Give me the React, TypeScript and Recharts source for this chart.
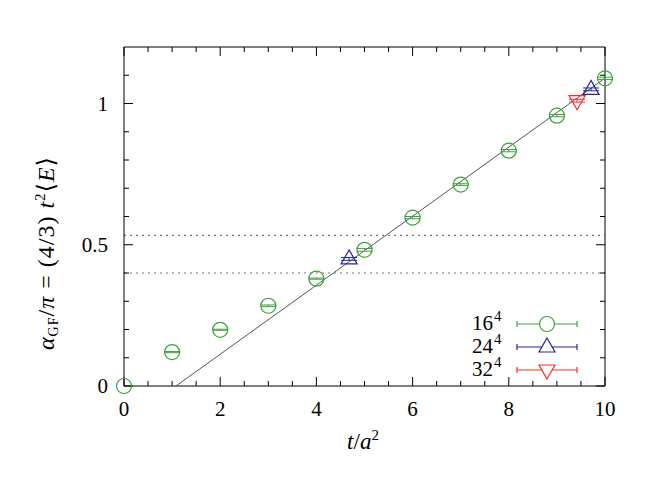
import { ComposedChart, ErrorBar, Line, ReferenceLine, Scatter, XAxis, YAxis } from 'recharts';

// lattice 16^4
const t16 = [0, 1, 2, 3, 4, 5, 6, 7, 8, 9, 10];
const alpha16 = [0, 0.12, 0.199, 0.284, 0.38, 0.482, 0.596, 0.713, 0.833, 0.957, 1.089];
const err16 = [0, 0.002, 0.002, 0.003, 0.002, 0.005, 0.004, 0.003, 0.004, 0.004, 0.004];
// lattice 24^4
const t24 = [4.68, 9.71];
const alpha24 = [0.45, 1.05];
const err24 = [0.005, 0.005];
// lattice 32^4
const t32 = [9.42];
const alpha32 = [1.01];
const err32 = [0.005];
// linear fit
const fitT = [1.08, 10];
const fitAlpha = [0, 1.09];
// dotted reference levels
const refLevels = [0.4, 0.533];

const X_MIN = 0;
const X_MAX = 10;
const Y_MIN = 0;
const Y_MAX = 1.2;
const xMajor = [0, 2, 4, 6, 8, 10];
const xMinor = [0.5, 1, 1.5, 2.5, 3, 3.5, 4.5, 5, 5.5, 6.5, 7, 7.5, 8.5, 9, 9.5];
const yMajor = [0, 0.5, 1];
const yMinor = [0.1, 0.2, 0.3, 0.4, 0.6, 0.7, 0.8, 0.9, 1.1];

const FONT = '"Liberation Serif", "DejaVu Serif", serif';
const GREEN = '#3da33d';
const BLUE = '#27279a';
const RED = '#ff2a2a';

// inward tick lengths in data units (~9px major, ~5px minor)
const X_PER_PX = (X_MAX - X_MIN) / 481;
const Y_PER_PX = (Y_MAX - Y_MIN) / 339;

const rows = (ts: number[], as: number[], es: number[]) => ts.map((x, i) => ({ x, y: as[i], err: es[i] }));
const data16 = rows(t16, alpha16, err16);
const data24 = rows(t24, alpha24, err24);
const data32 = rows(t32, alpha32, err32);
const fitData = fitT.map((x, i) => ({ x, y: fitAlpha[i] }));

const xTickMarks = [
  ...xMajor.map((v) => ({ v, len: 9 })),
  ...xMinor.map((v) => ({ v, len: 5 })),
];
const yTickMarks = [
  ...yMajor.map((v) => ({ v, len: 9 })),
  ...yMinor.map((v) => ({ v, len: 5 })),
];

function XLabel(props: any) {
  const { x, y, payload } = props;
  return (
    <text x={x} y={y + 30} textAnchor="middle" fontFamily={FONT} fontSize={21} fill="#000">
      {payload.value}
    </text>
  );
}

function YLabel(props: any) {
  const { x, y, payload } = props;
  return (
    <text x={x - 16} y={y + 7} textAnchor="end" fontFamily={FONT} fontSize={21} fill="#000">
      {payload.value}
    </text>
  );
}

const circle = (color: string) => (p: any) => (
  <circle cx={p.cx} cy={p.cy} r={7.5} fill="none" stroke={color} strokeWidth={1.2} />
);
const triUp = (color: string) => (p: any) => (
  <path d={`M${p.cx},${p.cy - 9} L${p.cx + 8},${p.cy + 5} L${p.cx - 8},${p.cy + 5} Z`} fill="none" stroke={color} strokeWidth={1.2} />
);
const triDown = (color: string) => (p: any) => (
  <path d={`M${p.cx},${p.cy + 9} L${p.cx + 8},${p.cy - 5} L${p.cx - 8},${p.cy - 5} Z`} fill="none" stroke={color} strokeWidth={1.2} />
);

const legendItems = [
  { label: '16', color: GREEN, kind: 'circle' },
  { label: '24', color: BLUE, kind: 'up' },
  { label: '32', color: RED, kind: 'down' },
];

function Overlay() {
  return (
    <svg width={654} height={489} style={{ position: 'absolute', left: 0, top: 0, pointerEvents: 'none' }}>
      {/* y label */}
      <text transform="translate(54,253) rotate(-90)" textAnchor="middle" fontFamily={FONT} fontSize={24} fill="#000"
        letterSpacing={1}>
        <tspan fontStyle="italic">α</tspan>
        <tspan fontSize={14} dy={4}>GF</tspan>
        <tspan dy={-4}>/</tspan>
        <tspan fontStyle="italic">π</tspan>
        <tspan>{' = (4/3) '}</tspan>
        <tspan fontStyle="italic">t</tspan>
        <tspan fontSize={15} dy={-9}>2</tspan>
        <tspan dy={9}>⟨</tspan>
        <tspan fontStyle="italic">E</tspan>
        <tspan>⟩</tspan>
      </text>
      {/* x label */}
      <text x={363} y={449} textAnchor="middle" fontFamily={FONT} fontSize={23} fill="#000">
        <tspan fontStyle="italic">t</tspan>
        <tspan>/</tspan>
        <tspan fontStyle="italic">a</tspan>
        <tspan fontSize={15} dy={-9}>2</tspan>
      </text>
      {/* legend */}
      {legendItems.map((it, i) => {
        const cy = 324 + i * 23;
        const mx = 547;
        return (
          <g key={it.label}>
            <text x={493} y={cy + 6} textAnchor="end" fontFamily={FONT} fontSize={21} fill="#000">
              {it.label}
            </text>
            <text x={494} y={cy - 3} textAnchor="start" fontFamily={FONT} fontSize={15} fill="#000">
              4
            </text>
            <line x1={517} x2={577} y1={cy} y2={cy} stroke={it.color} strokeWidth={1.2} />
            <line x1={517} x2={517} y1={cy - 3} y2={cy + 3} stroke={it.color} strokeWidth={1.2} />
            <line x1={577} x2={577} y1={cy - 3} y2={cy + 3} stroke={it.color} strokeWidth={1.2} />
            {it.kind === 'circle' && <circle cx={mx} cy={cy} r={7.5} fill="#fff" stroke={it.color} strokeWidth={1.2} />}
            {it.kind === 'up' && (
              <path d={`M${mx},${cy - 9} L${mx + 8},${cy + 5} L${mx - 8},${cy + 5} Z`} fill="#fff" stroke={it.color} strokeWidth={1.2} />
            )}
            {it.kind === 'down' && (
              <path d={`M${mx},${cy + 9} L${mx + 8},${cy - 5} L${mx - 8},${cy - 5} Z`} fill="#fff" stroke={it.color} strokeWidth={1.2} />
            )}
          </g>
        );
      })}
    </svg>
  );
}

export default function App() {
  return (
    <div style={{ position: 'absolute', left: 0, top: 0, width: 654, height: 489, background: '#fff' }}>
      <ComposedChart width={654} height={489} margin={{ top: 47, right: 49, bottom: 73, left: 64 }}>
        <XAxis dataKey="x" type="number" domain={[X_MIN, X_MAX]} ticks={xMajor} interval={0} height={30}
          axisLine={false} tickLine={false} tickSize={0} tickMargin={0} tick={<XLabel />} />
        <YAxis dataKey="y" type="number" domain={[Y_MIN, Y_MAX]} ticks={yMajor} interval={0} width={60}
          axisLine={false} tickLine={false} tickSize={0} tickMargin={0} tick={<YLabel />} />
        {refLevels.map((v) => (
          <ReferenceLine key={v} y={v} stroke="#777" strokeDasharray="2 4" strokeWidth={1.2} />
        ))}
        {/* frame */}
        <ReferenceLine x={X_MIN} stroke="#000" strokeWidth={1} />
        <ReferenceLine x={X_MAX} stroke="#000" strokeWidth={1} />
        <ReferenceLine y={Y_MIN} stroke="#000" strokeWidth={1} />
        <ReferenceLine y={Y_MAX} stroke="#000" strokeWidth={1} />
        {/* inward ticks on all four sides */}
        {xTickMarks.map(({ v, len }) => (
          <ReferenceLine key={`xb${v}`} segment={[{ x: v, y: Y_MIN }, { x: v, y: Y_MIN + len * Y_PER_PX }]} stroke="#000" strokeWidth={1} />
        ))}
        {xTickMarks.map(({ v, len }) => (
          <ReferenceLine key={`xt${v}`} segment={[{ x: v, y: Y_MAX }, { x: v, y: Y_MAX - len * Y_PER_PX }]} stroke="#000" strokeWidth={1} />
        ))}
        {yTickMarks.map(({ v, len }) => (
          <ReferenceLine key={`yl${v}`} segment={[{ x: X_MIN, y: v }, { x: X_MIN + len * X_PER_PX, y: v }]} stroke="#000" strokeWidth={1} />
        ))}
        {yTickMarks.map(({ v, len }) => (
          <ReferenceLine key={`yr${v}`} segment={[{ x: X_MAX, y: v }, { x: X_MAX - len * X_PER_PX, y: v }]} stroke="#000" strokeWidth={1} />
        ))}
        <Line data={fitData} dataKey="y" type="linear" stroke="#555" strokeWidth={1}
          dot={false} activeDot={false} isAnimationActive={false} />
        <Scatter data={data16} dataKey="y" shape={circle(GREEN)} isAnimationActive={false}>
          <ErrorBar dataKey="err" direction="y" width={8} stroke={GREEN} strokeWidth={1} isAnimationActive={false} />
        </Scatter>
        <Scatter data={data24} dataKey="y" shape={triUp(BLUE)} isAnimationActive={false}>
          <ErrorBar dataKey="err" direction="y" width={8} stroke={BLUE} strokeWidth={1} isAnimationActive={false} />
        </Scatter>
        <Scatter data={data32} dataKey="y" shape={triDown(RED)} isAnimationActive={false}>
          <ErrorBar dataKey="err" direction="y" width={8} stroke={RED} strokeWidth={1} isAnimationActive={false} />
        </Scatter>
      </ComposedChart>
      <Overlay />
    </div>
  );
}
